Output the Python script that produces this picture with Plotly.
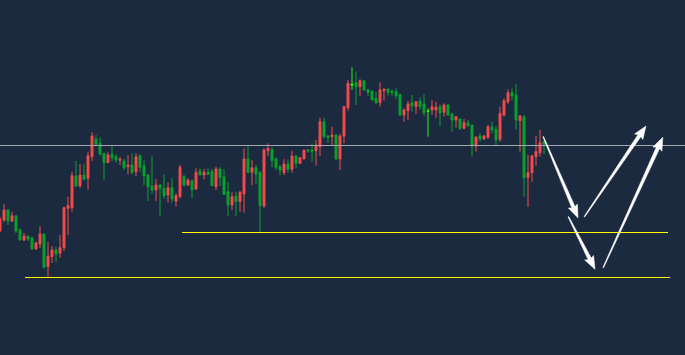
import math
import plotly.graph_objects as go

# OHLC values (price units)
opens = [169, 180, 190, 179, 184, 170, 160, 164, 162, 151,
         156, 166, 133.3, 143.3, 150, 146.7, 152.3, 191.7, 192.3, 224,
         214, 225, 221.7, 243.3, 261, 256.7, 246.7, 237.3, 245.7, 243.3,
         239.7, 239, 233.3, 235, 228.3, 244, 234, 225, 214, 210,
         215, 211.7, 205, 212.3, 199, 203.3, 223.3, 215, 219, 211,
         229, 225, 227.7, 228.3, 213.3, 231, 223.3, 208.3, 195, 204,
         198.3, 206, 241, 227.7, 232.3, 227.7, 194, 249.3, 250.7, 241,
         233.3, 227.3, 236, 230.7, 244, 236.7, 241, 250, 250, 249.3,
         253.3, 278.3, 264, 263.3, 265, 241, 264, 292.3, 316, 317.3,
         313.3, 319.3, 310, 309, 301.7, 297.3, 309.3, 311, 309, 308.3,
         305.7, 285, 289.3, 297.3, 293.3, 299, 296, 289.5, 290, 290,
         293.3, 287.7, 295, 286, 280, 281, 271.7, 277.3, 275, 254,
         264, 261, 262.7, 272.7, 270.7, 260.7, 285, 298.3, 307.3, 305,
         279.3, 283.3, 222.3, 227.3, 243.3, 247.3, 258.3]
highs = [183, 196, 191, 188, 185, 172, 167, 164, 163.3, 158.3,
         174, 166, 158.3, 154, 153.3, 165, 193.3, 203.3, 228.3, 239,
         236, 235.7, 248.3, 267.7, 265, 262.7, 247, 247.7, 255, 245.7,
         243.3, 241, 245, 246.7, 246.7, 245.7, 240, 226, 244, 221,
         216, 225.7, 217.7, 221.7, 206.7, 235, 225, 221.7, 220.7, 231.7,
         231.7, 231, 231.7, 231, 233.3, 232.7, 231, 218.3, 207.7, 208.3,
         209, 251.7, 254, 240, 235, 229, 251.7, 256.7, 252.7, 242.7,
         235, 240.7, 240.7, 249, 245, 243.3, 250, 251, 256.7, 260,
         282.3, 282.3, 265, 273.3, 266, 266, 294.3, 320, 332.7, 328.3,
         320.7, 319.3, 311.3, 309, 308.3, 317.7, 311.7, 311, 310.7, 311.7,
         305.7, 291.7, 299, 305, 298.3, 302.7, 306, 291.7, 300, 298.3,
         295.7, 296.7, 296, 287.3, 284, 281.7, 281, 280, 275, 264,
         266.7, 265, 275, 278.3, 274, 293.3, 301.7, 310.7, 311.7, 316,
         285, 285, 245, 245, 264, 270, 259.3]
lows = [168, 178, 175, 178, 167, 160, 159, 159, 150.3, 150.5,
        152, 131, 123.3, 137, 138, 142.3, 149, 165, 188.3, 213,
        212.3, 219.7, 210.3, 239, 255, 244.3, 220, 237.3, 239, 237.3,
        235, 230, 225.7, 225.7, 224, 228.3, 215, 199, 206, 199,
        183.3, 201, 197.3, 197.3, 193.3, 201.7, 213.3, 214, 201.7, 210,
        225, 220.7, 225, 214.3, 210, 214, 205, 184, 190, 184,
        188.3, 187.3, 226.7, 215, 215.7, 167.7, 191.7, 244, 232.7, 230,
        225, 225, 227.3, 227.3, 231.7, 236, 241, 247.3, 238.3, 234.3,
        244, 261.7, 257.3, 254, 239.3, 230, 256.7, 289.3, 310, 295,
        304, 310, 304, 300, 295.7, 293.3, 299.3, 304.3, 304.3, 301,
        284, 278.3, 280, 288.3, 286, 290, 284, 263.3, 285, 282,
        273.3, 283.3, 284.3, 268.3, 272.3, 270, 270.7, 273.3, 243.3, 248.3,
        258.3, 260, 261, 266.7, 254.7, 258.3, 283.3, 296, 299.3, 270,
        248.3, 203.3, 193.3, 218.3, 234, 243.3, 246]
closes = [181, 190, 179, 184.3, 169, 160, 164, 161, 151, 157,
          166, 133, 144, 150, 146, 152.3, 192.3, 194.3, 224.3, 214,
          225, 220.7, 244.3, 264, 255.7, 246, 237.3, 245, 242.3, 240,
          240.7, 232.3, 235, 227.3, 243.3, 232.7, 224.3, 213.3, 210, 215,
          211.7, 204, 212.3, 201, 204.3, 232.7, 215, 220, 210, 227.7,
          225, 227.7, 225.7, 214.3, 231, 222.3, 205.7, 195, 203.3, 198.3,
          207.7, 241, 227.7, 232.3, 225.7, 194.3, 250, 251.7, 239.3, 232.7,
          230, 236, 230.7, 244, 236.7, 242.3, 250, 249, 248.3, 255,
          278.3, 263.3, 262.3, 265, 241, 264, 293.3, 316.7, 314.7, 313.3,
          319.3, 310, 307.7, 300, 297.3, 310, 310.7, 307.7, 307.7, 304.3,
          285, 290, 296, 294, 298.3, 293.3, 287.3, 288.5, 293.3, 292.7,
          287, 295, 285, 280, 283.3, 271.7, 277.3, 274.3, 254, 262.7,
          261, 264, 273.3, 270, 260, 286.7, 299.3, 307.3, 304, 280,
          284, 222.3, 227.3, 244, 248.3, 257.3, 256]
doji_idx = [88, 107]  # bright green doji candles

# Horizontal levels
level_gray = 254.5
level_yellow_mid = 167.5
level_yellow_low = 122.5

# Projection arrows: (tail, head) in (bar index, price)
arrows = [((135.8, 263.3), (144.5, 182.0)),
          ((146.1, 183.3), (161.5, 274.0)),
          ((142.1, 183.3), (148.75, 130.7)),
          ((150.8, 132.3), (165.7, 262.7))]

X_RANGE = [0, 171.25]
Y_RANGE = [45, 400]
W, H = 685, 355
PX_X = W / (X_RANGE[1] - X_RANGE[0])
PX_Y = H / (Y_RANGE[1] - Y_RANGE[0])

idx = list(range(len(opens)))
main = [i for i in idx if i not in doji_idx]

RED = "#f24c4c"
GREEN = "#0aa12c"
LIME = "#2cf01a"

fig = go.Figure()
fig.add_trace(go.Candlestick(
    x=main,
    open=[opens[i] for i in main], high=[highs[i] for i in main],
    low=[lows[i] for i in main], close=[closes[i] for i in main],
    increasing=dict(line=dict(color=RED, width=1), fillcolor=RED),
    decreasing=dict(line=dict(color=GREEN, width=1), fillcolor=GREEN),
    whiskerwidth=0, showlegend=False, hoverinfo="skip"))
fig.add_trace(go.Candlestick(
    x=doji_idx,
    open=[opens[i] for i in doji_idx], high=[highs[i] for i in doji_idx],
    low=[lows[i] for i in doji_idx], close=[closes[i] for i in doji_idx],
    increasing=dict(line=dict(color=LIME, width=1), fillcolor=LIME),
    decreasing=dict(line=dict(color=LIME, width=1), fillcolor=LIME),
    whiskerwidth=0, showlegend=False, hoverinfo="skip"))

fig.add_shape(type="line", xref="paper", x0=0, x1=1, y0=level_gray, y1=level_gray,
              line=dict(color="#a3a7b0", width=1))
fig.add_shape(type="line", x0=45.5, x1=167, y0=level_yellow_mid, y1=level_yellow_mid,
              line=dict(color="#ffff00", width=1))
fig.add_shape(type="line", x0=6.25, x1=167.5, y0=level_yellow_low, y1=level_yellow_low,
              line=dict(color="#ffff00", width=1))


def to_px(p):
    return (p[0] * PX_X, -p[1] * PX_Y)


def to_data(q):
    return (q[0] / PX_X, -q[1] / PX_Y)


HEAD_LEN, HEAD_W, TAIL_W, NECK_W = 13, 10, 0.8, 3.6
for tail, head in arrows:
    t = to_px(tail)
    h = to_px(head)
    dx, dy = h[0] - t[0], h[1] - t[1]
    ln = math.hypot(dx, dy)
    ux, uy = dx / ln, dy / ln
    nx, ny = -uy, ux
    b = (h[0] - ux * HEAD_LEN, h[1] - uy * HEAD_LEN)
    bn = (h[0] - ux * (HEAD_LEN - 2), h[1] - uy * (HEAD_LEN - 2))
    shaft = [(t[0] + nx * TAIL_W / 2, t[1] + ny * TAIL_W / 2),
             (bn[0] + nx * NECK_W / 2, bn[1] + ny * NECK_W / 2),
             (bn[0] - nx * NECK_W / 2, bn[1] - ny * NECK_W / 2),
             (t[0] - nx * TAIL_W / 2, t[1] - ny * TAIL_W / 2)]
    tip = [h,
           (b[0] + nx * HEAD_W / 2, b[1] + ny * HEAD_W / 2),
           (bn[0], bn[1]),
           (b[0] - nx * HEAD_W / 2, b[1] - ny * HEAD_W / 2)]
    for poly in (shaft, tip):
        pts = [to_data(q) for q in poly]
        path = "M " + " L ".join(f"{x:.4f},{y:.4f}" for x, y in pts) + " Z"
        fig.add_shape(type="path", path=path, xref="x", yref="y",
                      fillcolor="#ffffff", line=dict(color="#ffffff", width=0.5))

fig.update_layout(
    width=W, height=H, margin=dict(l=0, r=0, t=0, b=0),
    paper_bgcolor="#1b2a3f", plot_bgcolor="#1b2a3f",
    showlegend=False,
    xaxis=dict(range=X_RANGE, visible=False, rangeslider=dict(visible=False),
               showgrid=False, zeroline=False),
    yaxis=dict(range=Y_RANGE, visible=False, showgrid=False, zeroline=False),
)
fig.write_html("out.html")
